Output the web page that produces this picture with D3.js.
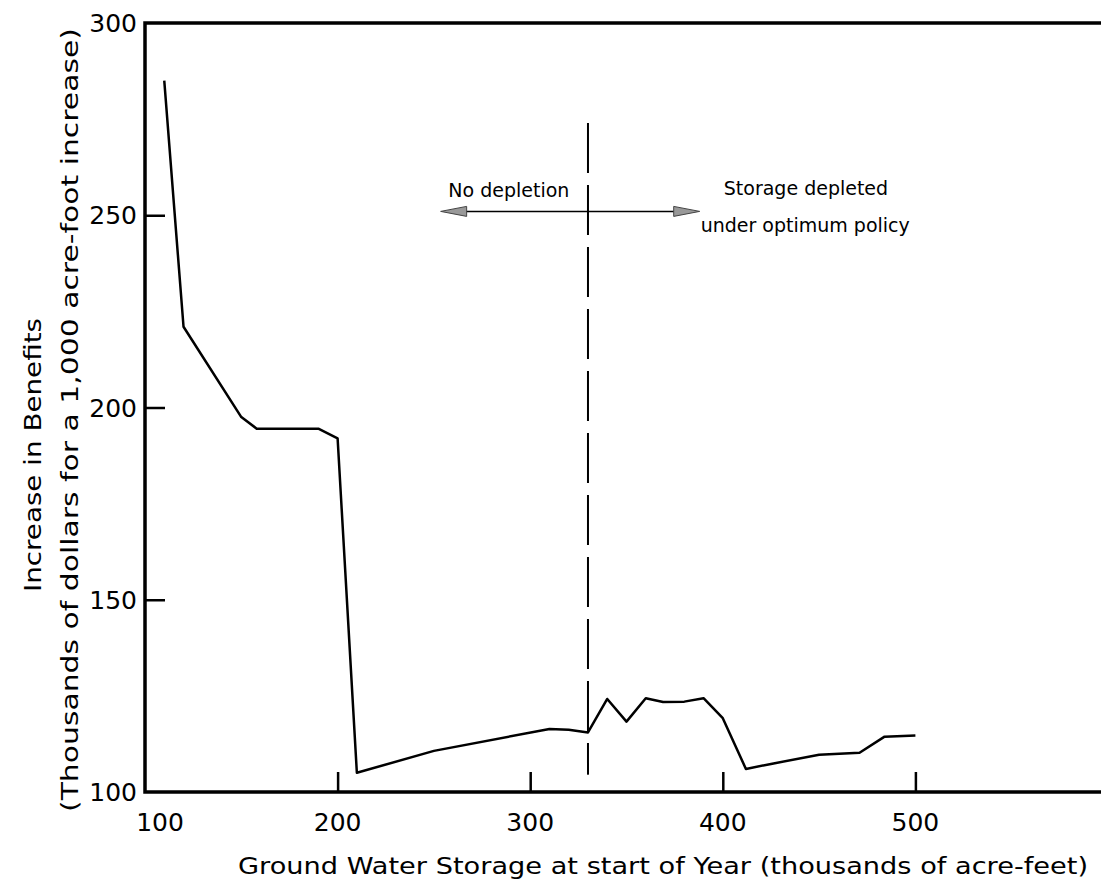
<!DOCTYPE html>
<html>
<head>
<meta charset="utf-8">
<script src="https://cdn.jsdelivr.net/npm/d3@7"></script>
<style>
  body { margin: 0; background: #fff; }
  text { font-family: "DejaVu Sans", sans-serif; fill: #000; }
</style>
</head>
<body>
<div id="chart"></div>
<script>
// data
let storage  = [110, 120, 150, 158, 190, 200, 210, 250, 310, 320, 330, 340, 350, 360, 369, 380, 390, 400, 412, 425, 450, 471, 484, 500];
let benefits = [285, 221, 197.5, 194.5, 194.5, 192, 105, 110.7, 116.4, 116.2, 115.5, 124.2, 118.3, 124.4, 123.4, 123.5, 124.4, 119.2, 106, 107.3, 109.7, 110.2, 114.4, 114.7];

let xTicks = [100, 200, 300, 400, 500];
let yTicks = [100, 150, 200, 250, 300];
let boundary = 330;   // dashed line

let width = 1101, height = 884;

let svg = d3.select("#chart").append("svg")
  .attr("width", width).attr("height", height);

let x = d3.scaleLinear().domain([100, 600]).range([145, 1108]);
let y = d3.scaleLinear().domain([100, 300]).range([792, 23]);

// frame: left, top, bottom
svg.append("path")
  .attr("d", "M" + width + "," + y(300) + "H" + x(100) + "V" + y(100) + "H" + width)
  .attr("fill", "none").attr("stroke", "#000").attr("stroke-width", 3.5);

// y ticks pointing inward
let yAxis = d3.axisRight(y).tickValues([150, 200, 250]).tickSize(20).tickFormat("");
svg.append("g").attr("transform", "translate(" + x(100) + ",0)").call(yAxis)
  .call(g => g.select(".domain").remove())
  .selectAll("line").attr("stroke-width", 2.5);

// x ticks pointing inward
let xAxis = d3.axisTop(x).tickValues([200, 300, 400, 500]).tickSize(20).tickFormat("");
svg.append("g").attr("transform", "translate(0," + y(100) + ")").call(xAxis)
  .call(g => g.select(".domain").remove())
  .selectAll("line").attr("stroke-width", 2.5);

// y tick labels
svg.selectAll(".ylab").data(yTicks).enter().append("text")
  .attr("class", "ylab")
  .attr("x", 137).attr("y", d => y(d))
  .attr("dy", "0.36em")
  .attr("text-anchor", "end")
  .style("font-size", "25px")
  .text(d => d);

// x tick labels
svg.selectAll(".xlab").data(xTicks).enter().append("text")
  .attr("class", "xlab")
  .attr("x", d => d === 100 ? x(d) + 15 : x(d))
  .attr("y", 822)
  .attr("dy", "0.36em")
  .attr("text-anchor", "middle")
  .style("font-size", "25px")
  .text(d => d);

// axis titles
svg.append("text")
  .attr("x", 238).attr("y", 874)
  .attr("textLength", 850).attr("lengthAdjust", "spacingAndGlyphs")
  .style("font-size", "23px")
  .text("Ground Water Storage at start of  Year (thousands of acre-feet)");

svg.append("text")
  .attr("transform", "translate(41,455) rotate(-90)")
  .attr("text-anchor", "middle")
  .attr("textLength", 274).attr("lengthAdjust", "spacingAndGlyphs")
  .style("font-size", "23px")
  .text("Increase in Benefits");

svg.append("text")
  .attr("transform", "translate(78,420) rotate(-90)")
  .attr("text-anchor", "middle")
  .attr("textLength", 784).attr("lengthAdjust", "spacingAndGlyphs")
  .style("font-size", "23px")
  .text("(Thousands of dollars for a 1,000 acre-foot increase)");

// the curve
let points = storage.map((s, i) => [s, benefits[i]]);
let line = d3.line().x(d => x(d[0])).y(d => y(d[1]));
svg.append("path")
  .datum(points)
  .attr("d", line)
  .attr("fill", "none")
  .attr("stroke", "#000")
  .attr("stroke-width", 2.5)
  .attr("stroke-linejoin", "round");

// dashed boundary
svg.append("line")
  .attr("x1", x(boundary)).attr("x2", x(boundary))
  .attr("y1", y(274)).attr("y2", y(104.5))
  .attr("stroke", "#000").attr("stroke-width", 2)
  .attr("stroke-dasharray", "50,12");

// double arrow
let arrowY = y(251), aL = x(253.5), aR = x(388);
svg.append("line")
  .attr("x1", aL + 20).attr("x2", aR - 20)
  .attr("y1", arrowY).attr("y2", arrowY)
  .attr("stroke", "#000").attr("stroke-width", 1.5);
svg.append("path")
  .attr("d", "M" + aL + "," + arrowY + "l26,-5l0,10z")
  .attr("fill", "#999").attr("stroke", "#444").attr("stroke-width", 1);
svg.append("path")
  .attr("d", "M" + aR + "," + arrowY + "l-26,-5l0,10z")
  .attr("fill", "#999").attr("stroke", "#444").attr("stroke-width", 1);

// annotations
svg.append("text").attr("x", x(257.5)).attr("y", 197)
  .style("font-size", "19px").text("No depletion");
svg.append("text").attr("x", x(400.5)).attr("y", 195)
  .style("font-size", "19px").text("Storage depleted");
svg.append("text").attr("x", x(388.5)).attr("y", 232)
  .style("font-size", "19px").text("under optimum policy");
</script>
</body>
</html>
